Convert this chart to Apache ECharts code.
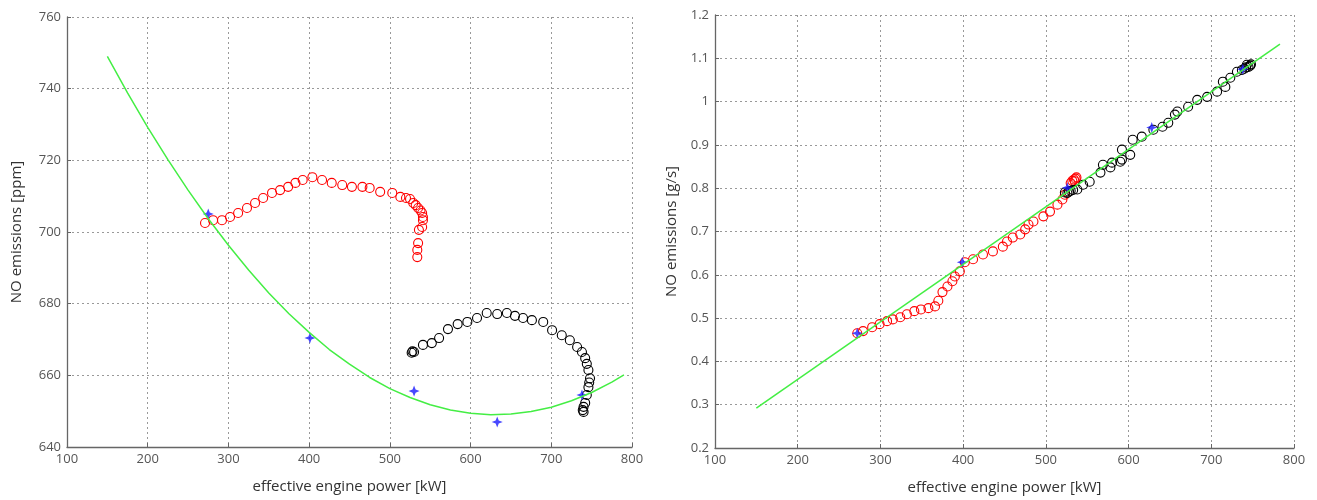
<!DOCTYPE html>
<html>
<head>
<meta charset="utf-8">
<script src="https://cdn.jsdelivr.net/npm/echarts@6/dist/echarts.min.js"></script>
<style>
  html, body { margin: 0; padding: 0; background: #fff; }
  #chart { width: 1317px; height: 500px; }
</style>
</head>
<body>
<div id="chart"></div>
<script>
// left panel: NO [ppm] vs power [kW]
var fitPpm = [[150, 749], [175, 738.8], [200, 729.2], [225, 720.2], [250, 711.7], [275, 703.7],
  [300, 696.3], [325, 689.4], [350, 683], [375, 677.2], [400, 672], [425, 667.2], [450, 663.1],
  [475, 659.4], [500, 656.3], [525, 653.8], [550, 651.8], [575, 650.3], [600, 649.4], [625, 649],
  [650, 649.2], [675, 649.9], [700, 651.1], [725, 652.9], [750, 655.2], [775, 658.1], [790, 660.1]]
var measPpm = [[275, 705], [401, 670.4], [530, 655.6], [633, 647], [738, 654.5]]
var redPpm = [[271, 702.5], [281, 703.3], [292, 703.3], [302, 704.2], [312, 705.3], [323, 706.7],
  [333, 708.1], [343, 709.5], [354, 710.9], [364, 711.7], [374, 712.6], [383, 713.7], [392, 714.5],
  [404, 715.3], [416, 714.5], [428, 713.7], [441, 713.1], [453, 712.6], [466, 712.6], [475, 712.3],
  [488, 711.2], [503, 710.9], [513, 709.8], [520, 709.5], [525, 709.2], [529, 708.1], [532, 707.5],
  [535, 706.7], [538, 706], [540, 705.3], [541, 704.2], [541, 703.3], [540, 701.4], [536, 700.6],
  [535, 696.9], [534, 695], [534, 693]]
var blackPpm = [[527, 666.3], [528, 666.7], [530, 666.5], [541, 668.5], [552, 669], [561, 670.4],
  [572, 672.9], [584, 674.3], [596, 674.9], [608, 676], [620, 677.4], [633, 677.1], [645, 677.4],
  [655, 676.6], [665, 676], [676, 675.4], [690, 674.9], [701, 672.6], [713, 671.2], [723, 669.8],
  [732, 667.9], [738, 666.5], [742, 664.8], [744, 663.2], [746, 661.5], [748, 659.2], [747, 658],
  [746, 656.7], [744, 654.5], [742, 652.3], [740, 651.2], [739, 650.3], [740, 649.8]]

// right panel: NO [g/s] vs power [kW]
var fitGs = [[150, 0.292], [783, 1.133]]
var measGs = [[272, 0.465], [399, 0.629], [526, 0.801], [628, 0.940], [738, 1.075]]
var redGs = [[272, 0.465], [279, 0.470], [290, 0.479], [299, 0.486], [308, 0.493], [315, 0.497],
  [324, 0.502], [332, 0.509], [341, 0.516], [349, 0.520], [358, 0.523], [366, 0.527], [370, 0.540],
  [375, 0.560], [381, 0.573], [387, 0.585], [390, 0.596], [396, 0.608], [402, 0.629], [412, 0.636],
  [424, 0.647], [436, 0.654], [448, 0.665], [453, 0.677], [460, 0.686], [469, 0.693], [475, 0.705],
  [479, 0.716], [485, 0.723], [497, 0.735], [505, 0.746], [514, 0.762], [520, 0.774], [523, 0.785],
  [530, 0.812], [532, 0.817], [534, 0.820], [536, 0.822], [535, 0.816], [537, 0.825]]
var blackGs = [[523, 0.790], [526, 0.789], [528, 0.792], [530, 0.794], [533, 0.796], [538, 0.797],
  [545, 0.808], [553, 0.815], [566, 0.836], [569, 0.854], [578, 0.848], [580, 0.859], [590, 0.861],
  [592, 0.866], [592, 0.889], [602, 0.877], [605, 0.912], [616, 0.919], [630, 0.935], [641, 0.942],
  [648, 0.951], [656, 0.970], [659, 0.977], [672, 0.988], [683, 1.004], [695, 1.011], [707, 1.023],
  [714, 1.046], [717, 1.034], [723, 1.055], [731, 1.069], [737, 1.073], [740, 1.076], [742, 1.079],
  [743, 1.085], [745, 1.080], [747, 1.083], [748, 1.086]]

var xTicks = { min: 100, max: 800, interval: 100 }
var ppmTicks = { min: 640, max: 760, interval: 20 }
var gsTicks = { min: 0.2, max: 1.2, interval: 0.1 }

var star = 'path://M5,0 L6.4,3.6 L10,5 L6.4,6.4 L5,10 L3.6,6.4 L0,5 L3.6,3.6 Z'
var font = '"Open Sans", "Noto Sans", sans-serif'

function axisBase (t) {
  return {
    type: 'value',
    min: t.min,
    max: t.max,
    interval: t.interval,
    axisLine: { show: true, onZero: false, lineStyle: { color: '#666', width: 1.3 } },
    axisTick: { show: true, inside: true, length: 4, lineStyle: { color: '#666' } },
    axisLabel: { color: '#555', fontSize: 13, fontFamily: font, margin: 6 },
    splitLine: { show: true, lineStyle: { color: '#999', type: [2, 3], width: 1 } },
    nameTextStyle: { color: '#333', fontSize: 15, fontFamily: font },
    nameLocation: 'middle'
  }
}

var xLeft = axisBase(xTicks)
xLeft.gridIndex = 0
xLeft.name = 'effective engine power [kW]'
xLeft.nameGap = 32
var xRight = axisBase(xTicks)
xRight.gridIndex = 1
xRight.name = 'effective engine power [kW]'
xRight.nameGap = 32

var yLeft = axisBase(ppmTicks)
yLeft.gridIndex = 0
yLeft.name = 'NO emissions [ppm]'
yLeft.nameGap = 43
var yRight = axisBase(gsTicks)
yRight.gridIndex = 1
yRight.name = 'NO emissions [g/s]'
yRight.nameGap = 36
yRight.axisLabel.formatter = function (v) { return String(+v.toFixed(1)) }

// hollow see-through rings like MATLAB 'o' markers
function circles (data, color, xi) {
  return {
    type: 'scatter', xAxisIndex: xi, yAxisIndex: xi, data: data,
    symbol: 'circle', symbolSize: 9,
    itemStyle: { color: 'rgba(0,0,0,0)', borderColor: color, borderWidth: 1.1, opacity: 1 },
    silent: true
  }
}

var option = {
  animation: false,
  backgroundColor: '#fff',
  grid: [
    { left: 67, right: 685, top: 17, bottom: 53 },
    { left: 715, right: 23, top: 15, bottom: 51 }
  ],
  xAxis: [xLeft, xRight],
  yAxis: [yLeft, yRight],
  series: [
    {
      type: 'line', xAxisIndex: 0, yAxisIndex: 0, data: fitPpm,
      showSymbol: false, lineStyle: { color: '#44ee44', width: 1.5 }
    },
    circles(redPpm, '#ff0000', 0),
    circles(blackPpm, '#000000', 0),
    {
      type: 'scatter', xAxisIndex: 0, yAxisIndex: 0, data: measPpm,
      symbol: star, symbolSize: 11, itemStyle: { color: '#1a1aff' }
    },
    {
      type: 'line', xAxisIndex: 1, yAxisIndex: 1, data: fitGs,
      showSymbol: false, lineStyle: { color: '#44ee44', width: 1.5 }
    },
    circles(redGs, '#ff0000', 1),
    circles(blackGs, '#000000', 1),
    {
      type: 'scatter', xAxisIndex: 1, yAxisIndex: 1, data: measGs,
      symbol: star, symbolSize: 11, itemStyle: { color: '#1a1aff' }
    }
  ]
}

var myChart = echarts.init(document.getElementById('chart'))
myChart.setOption(option)
</script>
</body>
</html>
